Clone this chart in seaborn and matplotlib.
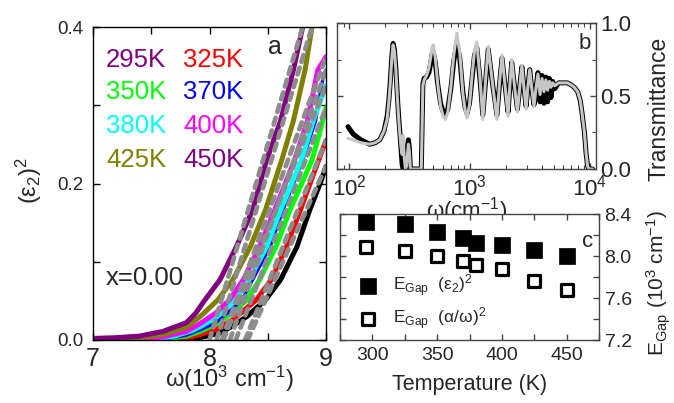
import numpy as np
import pandas as pd
import matplotlib
matplotlib.use("Agg")
import matplotlib.pyplot as plt
import seaborn as sns
from matplotlib.ticker import MultipleLocator, LogLocator, NullFormatter, FixedLocator, LogFormatterMathtext

sns.set_style("ticks")
plt.rcParams["font.family"] = ["Liberation Sans", "DejaVu Sans"]
plt.rcParams["mathtext.default"] = "regular"

# ---------------- Panel a data: (eps2)^2 vs omega (10^3 cm^-1) ----------------
temps = [295, 325, 350, 370, 380, 400, 425, 450]
line_colors = ["#000000", "#ff0000", "#00ff00", "#0000ff", "#00ffff", "#ff00ff", "#808000", "#800080"]
legend_colors = ["#800080", "#ff0000", "#00ff00", "#0000ff", "#00ffff", "#ff00ff", "#808000", "#800080"]

w295 = [7.80, 7.95, 8.09, 8.20, 8.32, 8.48, 8.61, 8.75, 8.86, 8.95, 9.00]
e295 = [0.001, 0.004, 0.009, 0.018, 0.030, 0.051, 0.077, 0.119, 0.166, 0.200, 0.222]
w325 = [7.70, 7.85, 7.92, 8.05, 8.20, 8.40, 8.53, 8.66, 8.78, 8.90, 9.00]
e325 = [0.001, 0.004, 0.007, 0.013, 0.026, 0.051, 0.077, 0.119, 0.166, 0.215, 0.255]
w350 = [7.60, 7.80, 7.92, 8.05, 8.15, 8.32, 8.43, 8.57, 8.69, 8.88, 8.94, 9.00]
e350 = [0.001, 0.005, 0.011, 0.020, 0.030, 0.051, 0.077, 0.119, 0.166, 0.230, 0.262, 0.297]
w370 = [7.60, 7.80, 7.92, 8.05, 8.15, 8.28, 8.37, 8.52, 8.63, 8.80, 8.91, 8.98, 9.00]
e370 = [0.001, 0.006, 0.013, 0.022, 0.034, 0.051, 0.077, 0.119, 0.166, 0.230, 0.280, 0.340, 0.345]
w380 = [7.50, 7.70, 7.85, 7.92, 8.05, 8.22, 8.34, 8.49, 8.61, 8.79, 8.89, 9.00]
e380 = [0.001, 0.005, 0.012, 0.017, 0.028, 0.051, 0.077, 0.119, 0.166, 0.230, 0.280, 0.325]
w400 = [7.40, 7.60, 7.80, 7.92, 8.05, 8.17, 8.29, 8.43, 8.56, 8.73, 8.84, 8.93, 9.00]
e400 = [0.001, 0.004, 0.011, 0.021, 0.034, 0.051, 0.077, 0.119, 0.166, 0.230, 0.280, 0.345, 0.362]
w425 = [7.20, 7.40, 7.60, 7.80, 7.92, 8.07, 8.20, 8.35, 8.48, 8.62, 8.72, 8.82, 8.88]
e425 = [0.001, 0.003, 0.007, 0.016, 0.030, 0.051, 0.077, 0.119, 0.166, 0.230, 0.280, 0.345, 0.400]
w450 = [7.00, 7.20, 7.40, 7.60, 7.80, 7.88, 7.96, 8.09, 8.23, 8.37, 8.49, 8.61, 8.72, 8.80]
e450 = [0.002, 0.003, 0.005, 0.011, 0.022, 0.034, 0.051, 0.077, 0.119, 0.166, 0.230, 0.280, 0.345, 0.400]

curves_w = [w295, w325, w350, w370, w380, w400, w425, w450]
curves_e = [e295, e325, e350, e370, e380, e400, e425, e450]

# linear fits (gray dashed): start at the gap, end point on the upper curve
fit_x_end = [9.00, 9.00, 9.00, 9.00, 9.00, 9.00, 8.88, 8.80]
fit_y_end = [0.222, 0.255, 0.297, 0.345, 0.325, 0.362, 0.400, 0.400]

# ---------------- Panel c data: gap vs temperature ----------------
temp_K = [295, 325, 350, 370, 380, 400, 425, 450]
gap_eps2 = [8.327, 8.305, 8.225, 8.175, 8.12, 8.105, 8.06, 8.00]
gap_alpha = [8.09, 8.05, 8.00, 7.95, 7.91, 7.88, 7.765, 7.68]

# ---------------- Panel b data: transmittance vs omega (cm^-1) ----------------
omega_b = [98, 108, 125, 148, 165, 180, 195, 207, 214, 220, 226, 232, 238, 245, 251, 257, 264,
           270, 276, 281, 287, 294, 300, 306, 311, 317, 323, 340, 398, 404, 410, 420, 440, 460,
           475, 490, 500, 520, 545, 575, 605, 630, 660, 700, 740, 785, 830, 880, 920, 955, 1000,
           1050, 1100, 1150, 1220, 1290, 1360, 1430, 1560, 1690, 1770, 1860, 1980, 2090, 2160,
           2240, 2370, 2500, 2610, 2720, 2830, 2950, 3050, 3160, 3290, 3430, 3560, 3700, 3850,
           4000, 4150, 4300, 4450, 4600, 4750, 4900, 5100, 5500, 6000, 6500, 7000, 7400, 7900,
           8300, 8600, 9000, 9300, 9550, 9800, 10500]
trans_black = [0.29, 0.24, 0.20, 0.17, 0.18, 0.20, 0.26, 0.36, 0.47, 0.60, 0.76, 0.86, 0.82, 0.68,
               0.52, 0.38, 0.25, 0.14, 0.03, 0.00, 0.00, 0.00, 0.06, 0.16, 0.20, 0.14, 0.00, 0.00,
               0.00, 0.30, 0.58, 0.62, 0.63, 0.66, 0.72, 0.79, 0.80, 0.73, 0.58, 0.45, 0.39, 0.37,
               0.41, 0.55, 0.74, 0.86, 0.76, 0.53, 0.42, 0.38, 0.45, 0.62, 0.78, 0.83, 0.62, 0.37,
               0.60, 0.82, 0.57, 0.37, 0.57, 0.76, 0.56, 0.39, 0.56, 0.73, 0.56, 0.41, 0.56, 0.70,
               0.56, 0.43, 0.56, 0.68, 0.55, 0.44, 0.55, 0.66, 0.46, 0.64, 0.45, 0.63, 0.46, 0.62,
               0.49, 0.60, 0.55, 0.59, 0.59, 0.59, 0.575, 0.56, 0.53, 0.47, 0.38, 0.25, 0.10, 0.02,
               0.00, 0.00]
trans_gray = [0.21, 0.20, 0.18, 0.17, 0.18, 0.20, 0.26, 0.34, 0.46, 0.59, 0.75, 0.85, 0.81, 0.67,
              0.51, 0.37, 0.24, 0.15, 0.10, 0.23, 0.08, 0.00, 0.02, 0.10, 0.17, 0.12, 0.00, 0.00,
              0.00, 0.28, 0.57, 0.61, 0.64, 0.69, 0.76, 0.83, 0.85, 0.76, 0.58, 0.43, 0.36, 0.34,
              0.39, 0.56, 0.78, 0.93, 0.80, 0.52, 0.40, 0.35, 0.44, 0.64, 0.81, 0.87, 0.63, 0.34,
              0.61, 0.84, 0.57, 0.34, 0.58, 0.78, 0.56, 0.36, 0.57, 0.75, 0.56, 0.39, 0.56, 0.71,
              0.56, 0.41, 0.56, 0.68, 0.55, 0.43, 0.55, 0.65, 0.51, 0.62, 0.53, 0.61, 0.54, 0.60,
              0.56, 0.59, 0.57, 0.59, 0.59, 0.59, 0.575, 0.56, 0.53, 0.47, 0.38, 0.25, 0.10, 0.02,
              0.00, 0.00]

# ---------------- Figure ----------------
W, H = 674, 403
fig = plt.figure(figsize=(W / 100, H / 100), dpi=100)
axa = fig.add_axes([93 / W, (H - 340) / H, 233 / W, 313 / H])
axb = fig.add_axes([337 / W, (H - 169) / H, 259 / W, 146 / H])
axc = fig.add_axes([340 / W, (H - 340) / H, 259 / W, 126 / H])

# ---- panel a ----
for T, ws, es, col in zip(temps, curves_w, curves_e, line_colors):
    lw = 2.4 if T == 370 else 3.6
    sns.lineplot(x=ws, y=es, ax=axa, color=col, lw=lw, sort=False, estimator=None,
                 solid_capstyle="round")
for T, ws, xe, ye in zip(temps, curves_w, fit_x_end, fit_y_end):
    eg = gap_eps2[temp_K.index(T)]
    sns.lineplot(x=[eg, xe], y=[0.0, ye], ax=axa, color="#8c8c8c", lw=3.4, sort=False,
                 estimator=None, linestyle=(0, (1.5, 1.3)), dash_capstyle="round")
axa.set_xlim(7, 9)
axa.set_ylim(0, 0.4)
axa.set_xticks([7, 8, 9])
axa.xaxis.set_minor_locator(MultipleLocator(0.5))
axa.set_yticks([0.0, 0.2, 0.4])
axa.yaxis.set_minor_locator(MultipleLocator(0.1))
axa.tick_params(which="both", direction="in", top=True, right=True, color="black")
axa.tick_params(which="major", length=5, width=1)
axa.tick_params(which="minor", length=5, width=1)
axa.tick_params(axis="x", labelsize=18, pad=5)
axa.tick_params(axis="y", labelsize=13.5, pad=7)
for s in axa.spines.values():
    s.set_color("black")
    s.set_linewidth(1.0)
axa.set_xlabel(r"ω(10$^{3}$ cm$^{-1}$)", fontsize=17)
axa.xaxis.set_label_coords(0.584, -0.075)
axa.set_ylabel(r"(ε$_{2}$)$^{2}$", fontsize=17)
axa.yaxis.set_label_coords(-0.21, 0.51)

leg_pos = [(0.056, 0.895), (0.386, 0.895), (0.056, 0.792), (0.386, 0.792),
           (0.056, 0.684), (0.386, 0.684), (0.056, 0.575), (0.386, 0.575)]
for T, col, (px, py) in zip(temps, legend_colors, leg_pos):
    axa.text(px, py, f"{T}K", color=col, fontsize=18.5, transform=axa.transAxes,
             ha="left", va="center")
axa.text(0.056, 0.198, "x=0.00", fontsize=18.5, transform=axa.transAxes, ha="left", va="center")
axa.text(0.78, 0.936, "a", fontsize=18, transform=axa.transAxes, ha="center", va="center")

# ---- panel b ----
sns.lineplot(x=omega_b, y=trans_black, ax=axb, color="black", lw=3.6, sort=False, estimator=None)
sns.lineplot(x=omega_b, y=trans_gray, ax=axb, color="#c6c6c6", lw=2.2, sort=False, estimator=None)
axb.set_xscale("log")
axb.set_xlim(10 ** 1.9, 10 ** 4.05)
axb.set_ylim(0, 1.0)
axb.xaxis.set_major_locator(FixedLocator([100, 1000, 10000]))
axb.xaxis.set_major_formatter(LogFormatterMathtext())
axb.xaxis.set_minor_locator(LogLocator(base=10, subs=np.arange(2, 10)))
axb.xaxis.set_minor_formatter(NullFormatter())
axb.set_yticks([0.0, 0.5, 1.0])
axb.yaxis.set_minor_locator(MultipleLocator(0.25))
axb.yaxis.tick_right()
axb.yaxis.set_label_position("right")
axb.tick_params(which="both", direction="in", top=True, bottom=True, left=True, right=True,
                labelleft=False, labelright=True, color="#444444")
axb.tick_params(which="major", length=4, width=1)
axb.tick_params(which="minor", length=3, width=0.8)
axb.tick_params(axis="x", labelsize=16, pad=4)
axb.tick_params(axis="y", labelsize=16, pad=3)
for s in axb.spines.values():
    s.set_color("#444444")
    s.set_linewidth(1.0)
axb.set_xlabel(r"ω(cm$^{-1}$)", fontsize=16)
axb.xaxis.set_label_coords(0.5, -0.18)
axb.set_ylabel("Transmittance", fontsize=16.5)
axb.yaxis.set_label_coords(1.2, 0.41)
axb.text(0.955, 0.86, "b", fontsize=16, transform=axb.transAxes, ha="center", va="center")

# ---- panel c ----
sns.scatterplot(x=temp_K, y=gap_eps2, ax=axc, marker="s", s=120, color="black",
                edgecolor="black", linewidth=0.5, label=r"E$_{Gap}$  (ε$_{2}$)$^{2}$", zorder=3)
sns.scatterplot(x=temp_K, y=gap_alpha, ax=axc, marker="s", s=85, facecolor="white",
                edgecolor="black", linewidth=2.3, label=r"E$_{Gap}$  (α/ω)$^{2}$", zorder=3)
axc.set_xlim(275, 475)
axc.set_ylim(7.2, 8.4)
axc.set_xticks([300, 350, 400, 450])
axc.xaxis.set_minor_locator(MultipleLocator(25))
axc.set_yticks([7.2, 7.6, 8.0, 8.4])
axc.yaxis.set_minor_locator(MultipleLocator(0.2))
axc.yaxis.tick_right()
axc.yaxis.set_label_position("right")
axc.tick_params(which="both", direction="in", top=True, bottom=True, left=True, right=True,
                labelleft=False, labelright=True, color="#444444")
axc.tick_params(which="major", length=4, width=1)
axc.tick_params(which="minor", length=4, width=1)
axc.tick_params(axis="x", labelsize=14, pad=5)
axc.tick_params(axis="y", labelsize=14, pad=4)
for s in axc.spines.values():
    s.set_color("#444444")
    s.set_linewidth(1.0)
axc.set_xlabel("Temperature (K)", fontsize=15.5)
axc.xaxis.set_label_coords(0.5, -0.27)
axc.set_ylabel(r"E$_{Gap}$ (10$^{3}$ cm$^{-1}$)", fontsize=15)
axc.yaxis.set_label_coords(1.175, 0.45)
axc.text(0.955, 0.78, "c", fontsize=16, transform=axc.transAxes, ha="center", va="center")
axc.legend(loc="lower left", bbox_to_anchor=(0.0, -0.02), frameon=False, fontsize=12.5,
           handletextpad=0.45, labelspacing=0.4, borderaxespad=0.2, markerscale=1.0)

fig.savefig("out.png", dpi=100)
